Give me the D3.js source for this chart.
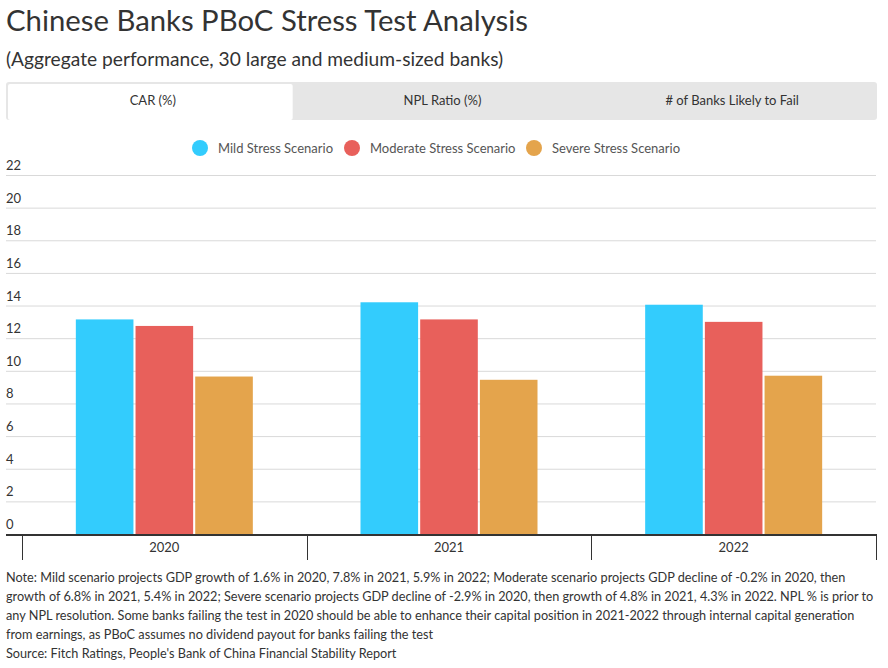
<!DOCTYPE html>
<html>
<head>
<meta charset="utf-8">
<script src="https://cdn.jsdelivr.net/npm/d3@7"></script>
<style>
body { margin: 0; background: #fff; font-family: Lato, "Open Sans", sans-serif; }
svg text { font-family: Lato, "Open Sans", sans-serif; }
</style>
</head>
<body>
<svg id="chart" width="888" height="668"></svg>
<script>
var years = ['2020', '2021', '2022'];
var scenarios = ['Mild Stress Scenario', 'Moderate Stress Scenario', 'Severe Stress Scenario'];
var mildCAR = [13.15, 14.2, 14.05];
var moderateCAR = [12.75, 13.15, 13.0];
var severeCAR = [9.65, 9.45, 9.7];
var yTicks = [0, 2, 4, 6, 8, 10, 12, 14, 16, 18, 20, 22];
var tabs = ['CAR (%)', 'NPL Ratio (%)', '# of Banks Likely to Fail'];
var notes = [
  'Note: Mild scenario projects GDP growth of 1.6% in 2020, 7.8% in 2021, 5.9% in 2022; Moderate scenario projects GDP decline of -0.2% in 2020, then',
  'growth of 6.8% in 2021, 5.4% in 2022; Severe scenario projects GDP decline of -2.9% in 2020, then growth of 4.8% in 2021, 4.3% in 2022. NPL % is prior to',
  'any NPL resolution. Some banks failing the test in 2020 should be able to enhance their capital position in 2021-2022 through internal capital generation',
  'from earnings, as PBoC assumes no dividend payout for banks failing the test',
  'Source: Fitch Ratings, People\'s Bank of China Financial Stability Report'
];

var colors = ['#33ccfd', '#e8605b', '#e4a44c'];
var series = [mildCAR, moderateCAR, severeCAR];

var svg = d3.select('#chart');

// title block
svg.append('text').attr('x', 6).attr('y', 31)
  .style('font-size', '29.3px').style('fill', '#333').text('Chinese Banks PBoC Stress Test Analysis');
svg.append('text').attr('x', 6).attr('y', 66)
  .style('font-size', '19.2px').style('fill', '#333').text('(Aggregate performance, 30 large and medium-sized banks)');

// tabs
svg.append('rect').attr('x', 6).attr('y', 82).attr('width', 871).attr('height', 38)
  .attr('rx', 3).style('fill', '#e6e6e6');
var tabX = d3.scaleBand().domain(tabs).range([8, 877]);
svg.append('rect').attr('x', tabX(tabs[0])).attr('y', 84)
  .attr('width', tabX.bandwidth() - 5).attr('height', 36).attr('rx', 2).style('fill', '#fff');
svg.selectAll('.tab-label')
  .data(tabs)
  .enter().append('text')
  .attr('class', 'tab-label')
  .attr('x', function(d) { return tabX(d) + tabX.bandwidth() / 2; })
  .attr('y', 105)
  .attr('text-anchor', 'middle')
  .style('font-size', '13px').style('fill', '#333')
  .text(function(d) { return d; });

// legend
var legendX = [200, 352, 534];
var legend = svg.selectAll('.legend')
  .data(scenarios)
  .enter().append('g')
  .attr('class', 'legend')
  .attr('transform', function(d, i) { return 'translate(' + legendX[i] + ',148)'; });
legend.append('circle').attr('r', 8).style('fill', function(d, i) { return colors[i]; });
legend.append('text').attr('x', 18).attr('y', 5)
  .style('font-size', '13px').style('fill', '#555')
  .text(function(d) { return d; });

// scales
var y = d3.scaleLinear().domain([0, 22]).range([534, 175]);
var x = d3.scaleBand().domain(years).range([22, 876]);
var xInner = d3.scaleBand().domain(d3.range(3)).range([0, 177]).paddingInner(0.035);
var groupOffset = (x.bandwidth() - 177) / 2;

// gridlines + labels
svg.selectAll('.grid')
  .data(yTicks.filter(function(d) { return d > 0; }))
  .enter().append('line')
  .attr('class', 'grid')
  .attr('x1', 6).attr('x2', 876)
  .attr('y1', function(d) { return y(d) + 0.5; })
  .attr('y2', function(d) { return y(d) + 0.5; })
  .style('stroke', '#d9d9d9').style('stroke-width', 1);
svg.selectAll('.ytick')
  .data(yTicks)
  .enter().append('text')
  .attr('class', 'ytick')
  .attr('x', 6)
  .attr('y', function(d) { return y(d) - 5; })
  .style('font-size', '13px').style('fill', '#333')
  .text(function(d) { return d; });

// bars
series.forEach(function(vals, si) {
  svg.selectAll('.bar-' + si)
    .data(vals)
    .enter().append('rect')
    .attr('class', 'bar-' + si)
    .attr('x', function(d, i) { return x(years[i]) + groupOffset + xInner(si); })
    .attr('width', xInner.bandwidth())
    .attr('y', function(d) { return y(d); })
    .attr('height', function(d) { return y(0) - y(d); })
    .style('fill', colors[si]);
});

// x axis
svg.append('line').attr('x1', 6).attr('x2', 877).attr('y1', y(0) + 1).attr('y2', y(0) + 1)
  .style('stroke', '#333').style('stroke-width', 2);
var tickPos = years.map(function(d) { return x(d); }).concat([x.range()[1]]);
svg.selectAll('.xtick')
  .data(tickPos)
  .enter().append('line')
  .attr('class', 'xtick')
  .attr('x1', function(d) { return Math.round(d) + 0.5; })
  .attr('x2', function(d) { return Math.round(d) + 0.5; })
  .attr('y1', y(0) + 2).attr('y2', 560)
  .style('stroke', '#333').style('stroke-width', 1);
svg.selectAll('.xlabel')
  .data(years)
  .enter().append('text')
  .attr('class', 'xlabel')
  .attr('x', function(d) { return x(d) + x.bandwidth() / 2; })
  .attr('y', 552)
  .attr('text-anchor', 'middle')
  .style('font-size', '13px').style('fill', '#333')
  .text(function(d) { return d; });

// notes
svg.selectAll('.note')
  .data(notes)
  .enter().append('text')
  .attr('class', 'note')
  .attr('x', 6)
  .attr('y', function(d, i) { return 582 + i * 19; })
  .style('font-size', '12.7px').style('fill', '#333')
  .text(function(d) { return d; });
</script>
</body>
</html>
